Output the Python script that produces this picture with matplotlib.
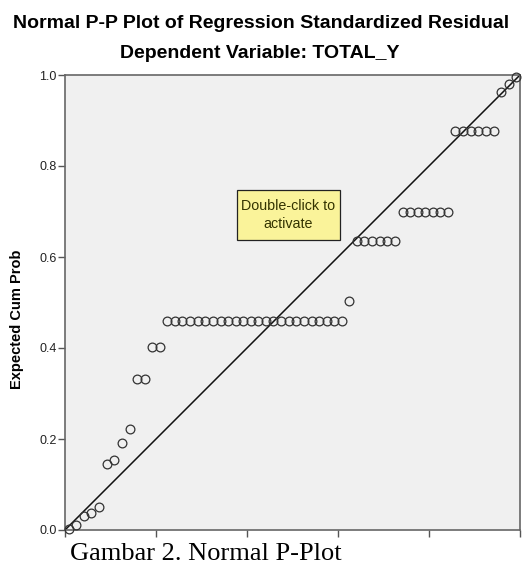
import matplotlib
matplotlib.use("Agg")
import matplotlib.pyplot as plt
from matplotlib.patches import Rectangle

obs_cum = [0.008, 0.025, 0.042, 0.058, 0.075, 0.092, 0.108, 0.125, 0.142, 0.158,
           0.175, 0.192, 0.208, 0.225, 0.242, 0.258, 0.275, 0.292, 0.308, 0.325,
           0.342, 0.358, 0.375, 0.392, 0.408, 0.425, 0.442, 0.458, 0.475, 0.492,
           0.508, 0.525, 0.542, 0.558, 0.575, 0.592, 0.608, 0.625, 0.642, 0.658,
           0.675, 0.692, 0.708, 0.725, 0.742, 0.758, 0.775, 0.792, 0.808, 0.825,
           0.842, 0.858, 0.875, 0.892, 0.908, 0.925, 0.942, 0.958, 0.975, 0.992]
exp_cum = [0.002, 0.012, 0.030, 0.037, 0.050, 0.145, 0.154, 0.191, 0.222, 0.332,
           0.332, 0.402, 0.402, 0.459, 0.459, 0.459, 0.459, 0.459, 0.459, 0.459,
           0.459, 0.459, 0.459, 0.459, 0.459, 0.459, 0.459, 0.459, 0.459, 0.459,
           0.459, 0.459, 0.459, 0.459, 0.459, 0.459, 0.459, 0.503, 0.635, 0.635,
           0.635, 0.635, 0.635, 0.635, 0.699, 0.699, 0.699, 0.699, 0.699, 0.699,
           0.699, 0.876, 0.876, 0.876, 0.876, 0.876, 0.876, 0.963, 0.980, 0.996]
yticks = [0.0, 0.2, 0.4, 0.6, 0.8, 1.0]
ytick_labels = ["0.0", "0.2", "0.4", "0.6", "0.8", "1.0"]

plt.rcParams['font.family'] = ['Liberation Sans', 'DejaVu Sans']

fig = plt.figure(figsize=(5.22, 5.65), dpi=100)
ax = fig.add_axes([65/522, 35/565, 455/522, 455/565])
ax.set_facecolor('#f0f0f0')

ax.plot([0, 1], [0, 1], color='#111111', lw=1.1, zorder=2)
ax.plot(obs_cum, exp_cum, 'o', mfc='none', mec='#333333', mew=0.9, ms=6.3,
        zorder=3, clip_on=False)

ax.set_xlim(0, 1)
ax.set_ylim(0, 1)
ax.set_xticks(yticks)
ax.set_xticklabels([])
ax.set_yticks(yticks)
ax.set_yticklabels(ytick_labels, fontsize=9, color='#222222')
ax.tick_params(direction='out', length=5, width=1, color='#555555', pad=1)
for s in ax.spines.values():
    s.set_color('#666666')
    s.set_linewidth(1.2)

# the "Double-click to activate" box
ax.add_patch(Rectangle((0.378, 0.637), 0.226, 0.11, facecolor='#faf39a',
                       edgecolor='#222222', lw=0.9, zorder=4))
ax.text(0.491, 0.692, "Double-click to\nactivate", ha='center', va='center',
        fontsize=10.3, color='#333300', linespacing=1.35, zorder=5)

fig.text(261/522, 1 - 28/565, "Normal P-P Plot of Regression Standardized Residual",
         ha='center', va='baseline', fontsize=14, fontweight='bold')
fig.text(260/522, 1 - 58/565, "Dependent Variable: TOTAL_Y",
         ha='center', va='baseline', fontsize=14, fontweight='bold')
fig.text(17/522, 1 - 319/565, "Expected Cum Prob", rotation=90,
         ha='center', va='center', fontsize=10.5, fontweight='bold')

fig.text(70/522, 5/565, "Gambar 2. Normal P-Plot", ha='left', va='baseline',
         fontsize=19, family=['Liberation Serif', 'DejaVu Serif'])

fig.savefig('out.png', dpi=100)
